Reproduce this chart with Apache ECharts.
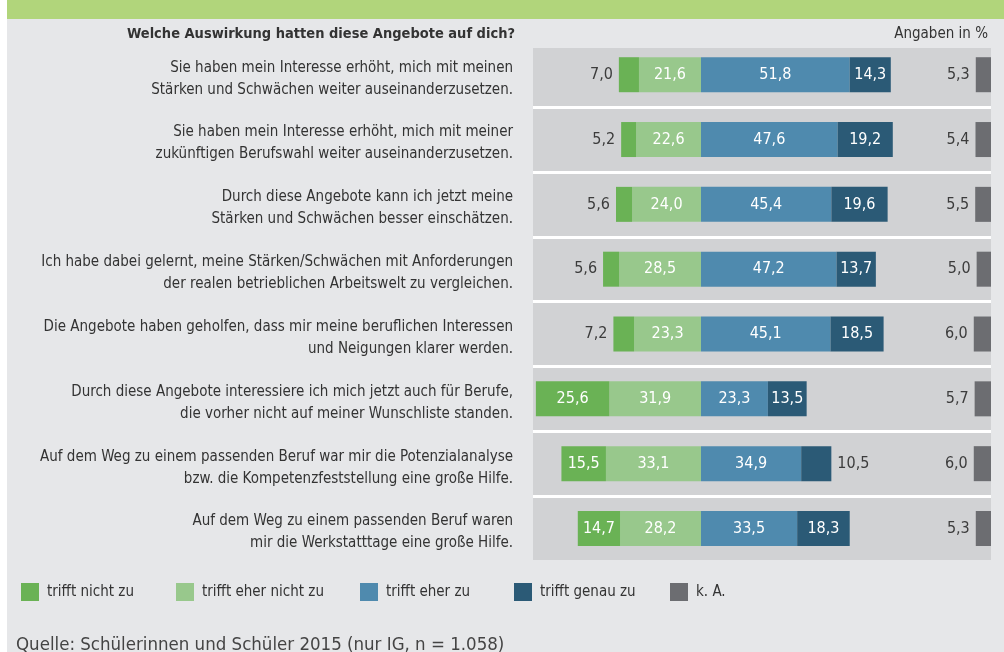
<!DOCTYPE html>
<html>
<head>
<meta charset="utf-8">
<script src="https://cdn.jsdelivr.net/npm/echarts@6/dist/echarts.min.js"></script>
<style>
  html, body { margin: 0; padding: 0; background: #fff; }
  #chart { width: 1004px; height: 652px; }
</style>
</head>
<body>
<div id="chart"></div>
<script>
// Aussagen (Zeilen)
const statements = [
  'Sie haben mein Interesse erhöht, mich mit meinen\nStärken und Schwächen weiter auseinanderzusetzen.',
  'Sie haben mein Interesse erhöht, mich mit meiner\nzukünftigen Berufswahl weiter auseinanderzusetzen.',
  'Durch diese Angebote kann ich jetzt meine\nStärken und Schwächen besser einschätzen.',
  'Ich habe dabei gelernt, meine Stärken/Schwächen mit Anforderungen\nder realen betrieblichen Arbeitswelt zu vergleichen.',
  'Die Angebote haben geholfen, dass mir meine beruflichen Interessen\nund Neigungen klarer werden.',
  'Durch diese Angebote interessiere ich mich jetzt auch für Berufe,\ndie vorher nicht auf meiner Wunschliste standen.',
  'Auf dem Weg zu einem passenden Beruf war mir die Potenzialanalyse\nbzw. die Kompetenzfeststellung eine große Hilfe.',
  'Auf dem Weg zu einem passenden Beruf waren\nmir die Werkstatttage eine große Hilfe.'
];
const trifftNicht     = [7.0, 5.2, 5.6, 5.6, 7.2, 25.6, 15.5, 14.7];
const trifftEherNicht = [21.6, 22.6, 24.0, 28.5, 23.3, 31.9, 33.1, 28.2];
const trifftEher      = [51.8, 47.6, 45.4, 47.2, 45.1, 23.3, 34.9, 33.5];
const trifftGenau     = [14.3, 19.2, 19.6, 13.7, 18.5, 13.5, 10.5, 18.3];
const keineAngabe     = [5.3, 5.4, 5.5, 5.0, 6.0, 5.7, 6.0, 5.3];

const names = ['trifft nicht zu', 'trifft eher nicht zu', 'trifft eher zu', 'trifft genau zu', 'k. A.'];
const colors = ['#6ab255', '#98c88c', '#4f8aae', '#2b5a76', '#6c6d71'];

const FONT = '"Liberation Sans Narrow", "DejaVu Sans Condensed", sans-serif';
const fmt = v => Math.abs(v).toFixed(1).replace('.', ',');

// kleine Werte passen nicht in den Balken -> Beschriftung außen
function items(values, sign, outsidePos) {
  return values.map(v => {
    const item = { value: sign * v };
    if (v < 11) {
      item.label = { position: outsidePos, color: '#3c3c3c' };
    }
    return item;
  });
}

const baseLabel = {
  show: true,
  position: 'inside',
  color: '#fff',
  fontFamily: FONT,
  fontSize: 16,
  distance: 6,
  formatter: p => fmt(p.value)
};

let chart = echarts.init(document.getElementById('chart'));

let option = {
  backgroundColor: '#fff',
  animation: false,
  textStyle: { fontFamily: FONT },
  graphic: [
    { type: 'rect', z: -3, shape: { x: 7, y: 0, width: 997, height: 652 }, style: { fill: '#e6e7e9' } },
    { type: 'rect', z: -2, shape: { x: 7, y: 0, width: 997, height: 19 }, style: { fill: '#b1d57b' } },
    { type: 'rect', z: -1, shape: { x: 533, y: 48, width: 458, height: 512 }, style: { fill: '#d1d2d4' } },
    // Randlinien oben/unten abdecken
    { type: 'rect', z: 1, shape: { x: 530, y: 38, width: 464, height: 10 }, style: { fill: '#e6e7e9' } },
    { type: 'rect', z: 1, shape: { x: 530, y: 560, width: 464, height: 6 }, style: { fill: '#e6e7e9' } }
  ],
  title: [
    {
      text: 'Welche Auswirkung hatten diese Angebote auf dich?',
      right: 489, top: 27, padding: 0,
      textStyle: { fontFamily: FONT, fontSize: 14.5, fontWeight: 'bold', color: '#333' }
    },
    {
      text: 'Angaben in %',
      right: 16, top: 27, padding: 0,
      textStyle: { fontFamily: FONT, fontSize: 15, fontWeight: 'normal', color: '#333' }
    },
    {
      text: 'Quelle: Schülerinnen und Schüler 2015 (nur IG, n = 1.058)',
      left: 16, top: 636, padding: 0,
      textStyle: { fontFamily: FONT, fontSize: 18.5, fontWeight: 'normal', color: '#444' }
    }
  ],
  legend: [
    [0, 21], [1, 176], [2, 360], [3, 514], [4, 670]
  ].map(([i, x]) => ({
    data: [names[i]],
    left: x, top: 583, padding: 0,
    icon: 'rect',
    itemWidth: 18, itemHeight: 18,
    selectedMode: false,
    textStyle: { fontFamily: FONT, fontSize: 15, color: '#333', padding: [0, 0, 0, 3] }
  })),
  grid: { left: 533, right: 13, top: 42.3, height: 518.6 },
  xAxis: [
    { type: 'value', min: -58.5, max: 101, show: false },
    { type: 'value', min: 0, max: 159.5, inverse: true, show: false }
  ],
  yAxis: {
    type: 'category',
    inverse: true,
    data: statements,
    axisLine: { show: false },
    axisTick: { show: false },
    splitLine: { show: true, lineStyle: { color: '#fff', width: 3 } },
    axisLabel: {
      margin: 20,
      fontFamily: FONT,
      fontSize: 15,
      color: '#333',
      align: 'right',
      // leere Zeile oben schiebt den Text etwas nach unten
      formatter: v => '{s| }\n' + v.split('\n').map(l => '{t|' + l + '}').join('\n'),
      rich: {
        s: { fontSize: 1, lineHeight: 8 },
        t: { fontFamily: FONT, fontSize: 15, lineHeight: 22, color: '#333', align: 'right' }
      }
    }
  },
  series: [
    {
      name: names[1], type: 'bar', stack: 'a', barWidth: 35,
      itemStyle: { color: colors[1] },
      label: baseLabel,
      data: items(trifftEherNicht, -1, 'left')
    },
    {
      name: names[0], type: 'bar', stack: 'a', barWidth: 35,
      itemStyle: { color: colors[0] },
      label: baseLabel,
      data: items(trifftNicht, -1, 'left')
    },
    {
      name: names[2], type: 'bar', stack: 'a', barWidth: 35,
      itemStyle: { color: colors[2] },
      label: baseLabel,
      data: items(trifftEher, 1, 'right')
    },
    {
      name: names[3], type: 'bar', stack: 'a', barWidth: 35,
      itemStyle: { color: colors[3] },
      label: baseLabel,
      data: items(trifftGenau, 1, 'right')
    },
    {
      name: names[4], type: 'bar', xAxisIndex: 1, barWidth: 35, barGap: '-100%',
      itemStyle: { color: colors[4] },
      label: Object.assign({}, baseLabel, { position: 'left', color: '#3c3c3c' }),
      data: keineAngabe
    }
  ]
};

chart.setOption(option);
window.addEventListener('resize', () => {
  chart.resize();
});
</script>
</body>
</html>
